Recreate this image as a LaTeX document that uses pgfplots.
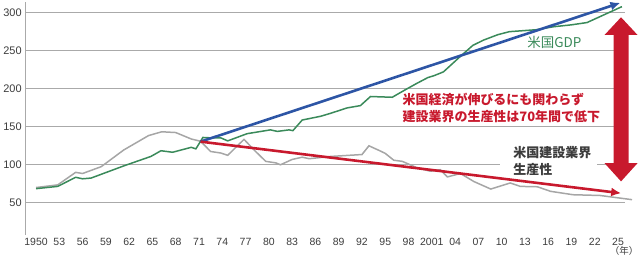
\documentclass[border=0pt]{standalone}
\usepackage{fontspec}
\setmainfont{Liberation Sans}
\newfontfamily\jp{Noto Sans CJK JP}
\usepackage{pgfplots}
\pgfplotsset{compat=1.18}
\usetikzlibrary{arrows.meta}
\definecolor{gdpgreen}{RGB}{58,138,90}
\definecolor{prodgray}{RGB}{166,166,166}
\definecolor{gridgray}{RGB}{170,170,170}
\definecolor{trendblue}{RGB}{45,85,165}
\definecolor{trendred}{RGB}{200,25,45}
\definecolor{labelgray}{RGB}{60,60,60}
\begin{document}
\begin{tikzpicture}
\begin{axis}[
  scale only axis, width=601pt, height=233.3pt,
  at={(0pt,0pt)}, anchor=south west,
  xmin=1948.6, xmax=2025.9, ymin=7.5, ymax=314.5,
  axis lines*=left,
  x axis line style={draw=none},
  y axis line style={draw=gridgray, line width=1.3pt},
  ytick={50,100,...,300},
  xtick={1950,1953,...,2025},
  xticklabels={1950,53,56,59,62,65,68,71,74,77,80,83,86,89,92,95,98,2001,04,07,10,13,16,19,22,25},
  major tick length=0pt,
  ymajorgrids,
  grid style={draw=gridgray, line width=1.2pt},
  /pgf/number format/assume math mode=true,
  xticklabel style={font=\fontsize{10.5}{12}\selectfont, text=labelgray},
  yticklabel style={font=\fontsize{11}{12}\selectfont, text=labelgray},
  clip=false,
]
\fill[white] (axis cs:2009.8,124.6) rectangle (axis cs:2022.3,84);
% US construction productivity
\addplot[color=prodgray, line width=1.5pt, mark=none] coordinates {
(1950,69.5) (1952.8,73) (1955.1,89.5) (1956,88) (1958.4,97) (1961.3,119)
(1964.5,138) (1966.2,143) (1968,142) (1970,133.5) (1971.2,130.5) (1972.5,117)
(1973.8,115) (1974.7,112) (1976.8,133) (1978.1,119) (1979.6,104) (1980.9,102)
(1981.5,99.5) (1983,106.5) (1984.3,109.5) (1985.2,107.5) (1988,110.5) (1992,113)
(1992.9,124.5) (1994.4,117.5) (1995,114.5) (1996.1,105.5) (1997.2,104) (1999.1,95.5)
(2000.8,91) (2002.1,93) (2003,83.5) (2004.7,88) (2006.4,77.5) (2008.6,67.5)
(2011.1,75.5) (2012.4,71) (2014.6,70.5) (2016.3,64.5) (2019.2,60) (2022.7,59)
(2026.8,53.5)
};
% US GDP
\addplot[color=gdpgreen, line width=1.5pt, mark=none] coordinates {
(1950,68) (1952.8,71) (1955.1,83) (1956,81) (1957.1,82) (1961.3,98)
(1964.8,110.5) (1966.1,118) (1967.6,116) (1970,122.5) (1970.6,120.5) (1971.5,135.5)
(1972.5,135) (1973.8,135) (1974.7,131) (1977.2,140.5) (1980.2,145.5) (1981.1,143.5)
(1982.6,145.5) (1983.1,144.5) (1984.3,158.5) (1986.7,163.5) (1988,167.5) (1990.1,174.5)
(1991.8,177.5) (1993.1,189.5) (1995.9,188.5) (1997.6,198.5) (1999.1,207) (2000.5,214.5)
(2001.3,217) (2002.5,222) (2004.8,243.5) (2006.3,257) (2007.7,264) (2009.5,271)
(2011,275) (2014.4,277.5) (2016.7,281.5) (2019,284) (2021,287) (2025.5,308)
};
% trend arrows
\addplot[color=trendblue, line width=2.6pt, mark=none, -{Latex[length=10pt,width=9pt]}] coordinates {(1971.2,130) (2025.3,313)};
\addplot[color=trendred, line width=2.6pt, mark=none, -{Latex[length=10pt,width=9pt]}] coordinates {(1971.2,130) (2025.4,62)};
\end{axis}
\begin{scope}[x=1pt, y=-1pt, shift={(-24pt,235pt)}]
\fill[trendred] (621,17.3) -- (637.5,35) -- (628.5,35) -- (628.5,163.5) -- (637.5,163.5)
  -- (621,181.7) -- (604.5,163.5) -- (613.5,163.5) -- (613.5,35) -- (604.5,35) -- cycle;
\node[anchor=west, inner sep=0pt, text=gdpgreen, font=\jp\fontsize{13.5}{15}\selectfont] at (527,42) {米国GDP};
\node[anchor=west, inner sep=0pt, text=trendred, font=\jp\bfseries\fontsize{13}{17}\selectfont] at (402,100) {米国経済が伸びるにも関わらず};
\node[anchor=west, inner sep=0pt, text=trendred, font=\jp\bfseries\fontsize{13}{17}\selectfont] at (402,116.7) {建設業界の生産性は70年間で低下};
\node[anchor=west, inner sep=0pt, text=labelgray, font=\jp\bfseries\fontsize{13}{17}\selectfont] at (513,153) {米国建設業界};
\node[anchor=west, inner sep=0pt, text=labelgray, font=\jp\bfseries\fontsize{13}{17}\selectfont] at (513,170) {生産性};
\node[inner sep=0pt, text=labelgray, font=\jp\fontsize{9.5}{10}\selectfont] at (624,251.5) {（年）};
\end{scope}
\path[use as bounding box] (-24pt,-25pt) rectangle (616pt,235pt);
\end{tikzpicture}
\end{document}
